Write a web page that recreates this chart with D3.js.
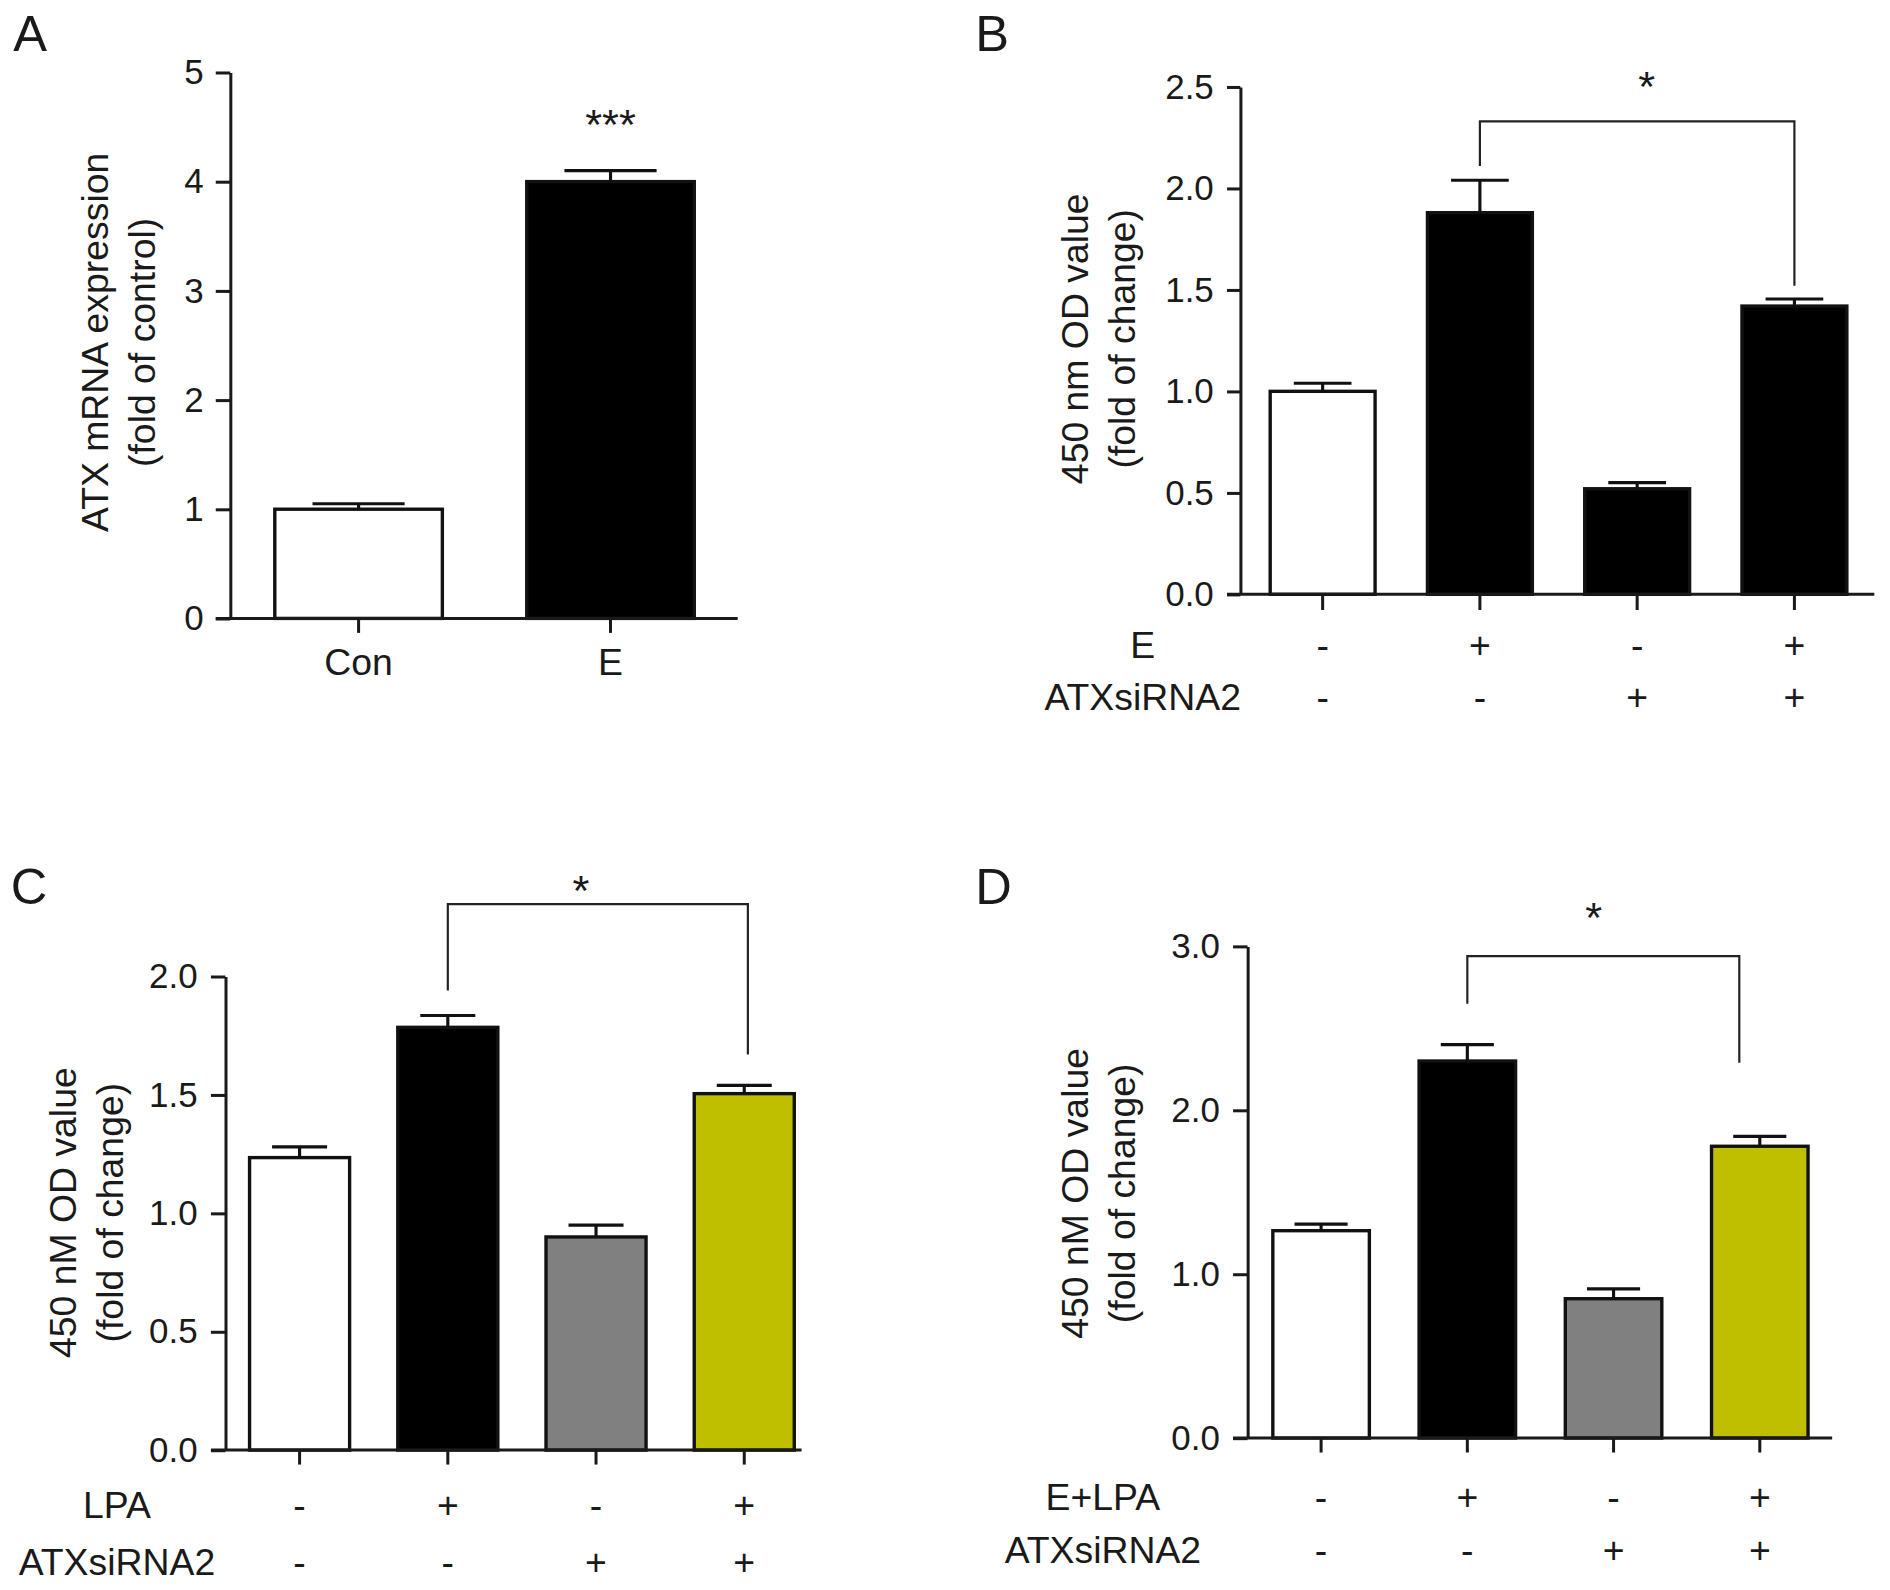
<!DOCTYPE html>
<html>
<head>
<meta charset="utf-8">
<script src="https://cdn.jsdelivr.net/npm/d3@7"></script>
<style>
  body { margin: 0; background: #fff; }
  svg { display: block; }
  text { font-family: "Liberation Sans", Arial, sans-serif; fill: #1a1a1a; }
</style>
</head>
<body>
<svg id="fig" width="1890" height="1590" viewBox="0 0 1568 1319"></svg>
<script>
// ---- data ----
// A: ATX mRNA expression
var aGroups = ["Con", "E"];
var aMeans = [1.0, 4.0];
var aErrs = [0.05, 0.1];
var aFills = ["#ffffff", "#000000"];
var aTicks = [0, 1, 2, 3, 4, 5];

// B: E / ATXsiRNA2
var bGroups = ["ctrl", "E", "si", "E+si"];
var bMeans = [1.0, 1.88, 0.52, 1.42];
var bErrs = [0.04, 0.16, 0.03, 0.035];
var bFills = ["#ffffff", "#000000", "#000000", "#000000"];
var bTicks = [0, 0.5, 1.0, 1.5, 2.0, 2.5];
var bRowNames = ["E", "ATXsiRNA2"];
var bRow1 = ["-", "+", "-", "+"];
var bRow2 = ["-", "-", "+", "+"];

// C: LPA / ATXsiRNA2
var cGroups = ["ctrl", "LPA", "si", "LPA+si"];
var cMeans = [1.235, 1.785, 0.9, 1.505];
var cErrs = [0.045, 0.05, 0.05, 0.035];
var cFills = ["#ffffff", "#000000", "#808080", "#bfbf00"];
var cTicks = [0, 0.5, 1.0, 1.5, 2.0];
var cRowNames = ["LPA", "ATXsiRNA2"];
var cRow1 = ["-", "+", "-", "+"];
var cRow2 = ["-", "-", "+", "+"];

// D: E+LPA / ATXsiRNA2
var dGroups = ["ctrl", "E+LPA", "si", "E+LPA+si"];
var dMeans = [1.265, 2.3, 0.85, 1.78];
var dErrs = [0.04, 0.1, 0.06, 0.06];
var dFills = ["#ffffff", "#000000", "#808080", "#bfbf00"];
var dTicks = [0, 1.0, 2.0, 3.0];
var dRowNames = ["E+LPA", "ATXsiRNA2"];
var dRow1 = ["-", "+", "-", "+"];
var dRow2 = ["-", "-", "+", "+"];

// significance brackets: [from group, to group, bar level, left end, right end, star level]
var bSig = ["E", "E+si", 2.33, 2.11, 1.52, 2.53];
var cSig = ["LPA", "LPA+si", 2.305, 1.94, 1.67, 2.39];
var dSig = ["E+LPA", "E+LPA+si", 2.94, 2.65, 2.29, 3.21];

var svg = d3.select("#fig");
var FS = 29;   // tick numbers
var LS = 31;   // titles, labels

function panel(o) {
  var g = svg.append("g");

  var y = d3.scaleLinear().domain(o.domain).range([o.yBot, o.yTop]);
  var x = d3.scaleBand().domain(o.groups).range([o.x0, o.bandEnd])
    .paddingInner(o.pi).paddingOuter(o.po);

  // panel letter
  g.append("text").attr("x", o.letter[0]).attr("y", o.letter[1])
    .attr("font-size", 42).text(o.name);

  // y axis
  var ya = g.append("g").attr("transform", "translate(" + o.x0 + ",0)")
    .call(d3.axisLeft(y).tickValues(o.ticks).tickFormat(d3.format(o.fmt))
      .tickSizeInner(o.tick).tickSizeOuter(0).tickPadding(o.pad));
  ya.selectAll("path, line").attr("stroke", "#1a1a1a").attr("stroke-width", 2.5);
  ya.selectAll("text").attr("font-size", FS).attr("fill", "#1a1a1a")
    .style("font-family", "'Liberation Sans', Arial, sans-serif");

  // bars
  var rows = o.groups.map(function(k, i) {
    return { key: k, mean: o.means[i], err: o.errs[i], fill: o.fills[i] };
  });
  g.selectAll("rect.bar").data(rows).enter().append("rect")
    .attr("class", "bar")
    .attr("x", function(d) { return x(d.key); })
    .attr("width", x.bandwidth())
    .attr("y", function(d) { return y(d.mean); })
    .attr("height", function(d) { return y(0) - y(d.mean); })
    .attr("fill", function(d) { return d.fill; })
    .attr("stroke", "#111").attr("stroke-width", 2.8);

  // upper error whiskers
  var capW = x.bandwidth() * 0.55;
  var eb = g.selectAll("g.err").data(rows).enter().append("g").attr("class", "err")
    .attr("stroke", "#111").attr("stroke-width", 2.6);
  eb.append("line")
    .attr("x1", function(d) { return x(d.key) + x.bandwidth() / 2; })
    .attr("x2", function(d) { return x(d.key) + x.bandwidth() / 2; })
    .attr("y1", function(d) { return y(d.mean); })
    .attr("y2", function(d) { return y(d.mean + d.err); });
  eb.append("line")
    .attr("x1", function(d) { return x(d.key) + x.bandwidth() / 2 - capW / 2; })
    .attr("x2", function(d) { return x(d.key) + x.bandwidth() / 2 + capW / 2; })
    .attr("y1", function(d) { return y(d.mean + d.err); })
    .attr("y2", function(d) { return y(d.mean + d.err); });

  // x axis
  var xa = g.append("g").attr("transform", "translate(0," + y(0) + ")")
    .call(d3.axisBottom(x).tickSizeInner(o.xtick).tickSizeOuter(0).tickPadding(13)
      .tickFormat(o.catLabels ? function(d, i) { return o.catLabels[i]; } : ""));
  xa.select(".domain").remove();
  xa.selectAll("line").attr("stroke", "#1a1a1a").attr("stroke-width", 2.5);
  xa.selectAll("text").attr("font-size", LS).attr("fill", "#1a1a1a")
    .style("font-family", "'Liberation Sans', Arial, sans-serif");
  g.append("line").attr("x1", o.x0 - o.tick).attr("x2", o.xEnd)
    .attr("y1", y(0)).attr("y2", y(0))
    .attr("stroke", "#1a1a1a").attr("stroke-width", 2.5);

  // y title (two lines)
  o.title.forEach(function(t, i) {
    g.append("text")
      .attr("transform", "translate(" + o.titleX[i] + "," + o.titleY + ") rotate(-90)")
      .attr("text-anchor", "middle").attr("font-size", LS).text(t);
  });

  // +/- condition rows
  if (o.rows) {
    o.rows.forEach(function(r, ri) {
      g.append("text").attr("x", o.rowLabelX).attr("y", o.rowY[ri])
        .attr("text-anchor", "middle").attr("font-size", LS).text(o.rowNames[ri]);
      g.selectAll(null).data(r).enter().append("text")
        .attr("x", function(d, i) { return x(o.groups[i]) + x.bandwidth() / 2; })
        .attr("y", o.rowY[ri])
        .attr("text-anchor", "middle").attr("font-size", LS)
        .text(function(d) { return d; });
    });
  }

  // significance
  if (o.sig) {
    var s = o.sig;
    var xl = x(s[0]) + x.bandwidth() / 2;
    var xr = x(s[1]) + x.bandwidth() / 2 + (o.legDx || 0);
    g.append("path")
      .attr("d", d3.line()([[xl, y(s[3])], [xl, y(s[2])], [xr, y(s[2])], [xr, y(s[4])]]))
      .attr("fill", "none").attr("stroke", "#222").attr("stroke-width", 1.8);
    g.append("text").attr("x", (xl + xr) / 2 + (o.starDx || 0)).attr("y", y(s[5]) + 17)
      .attr("text-anchor", "middle").attr("font-size", 36).text("*");
  }
  if (o.stars) {
    g.append("text").attr("x", x(o.stars[0]) + x.bandwidth() / 2).attr("y", y(o.stars[1]) + 17)
      .attr("text-anchor", "middle").attr("font-size", 36).text(o.stars[2]);
  }
}

panel({
  name: "A", letter: [11, 42],
  groups: aGroups, means: aMeans, errs: aErrs, fills: aFills,
  domain: [0, 5], ticks: aTicks, fmt: "d",
  x0: 191, bandEnd: 613, xEnd: 612, yTop: 60, yBot: 513, pi: 0.335, po: 0.177,
  tick: 12, xtick: 12, pad: 10,
  catLabels: aGroups,
  title: ["ATX mRNA expression", "(fold of control)"], titleX: [90, 129], titleY: 284,
  stars: ["E", 4.58, "***"]
});

panel({
  name: "B", letter: [809, 42],
  groups: bGroups, means: bMeans, errs: bErrs, fills: bFills,
  domain: [0, 2.5], ticks: bTicks, fmt: ".1f",
  x0: 1029, bandEnd: 1557, xEnd: 1555, yTop: 72, yBot: 493, pi: 0.333, po: 0.19,
  tick: 11, xtick: 13, pad: 11,
  title: ["450 nm OD value", "(fold of change)"], titleX: [903, 942], titleY: 281,
  rows: [bRow1, bRow2], rowNames: bRowNames, rowLabelX: 948, rowY: [546, 589],
  sig: bSig, starDx: 8
});

panel({
  name: "C", letter: [9, 750],
  groups: cGroups, means: cMeans, errs: cErrs, fills: cFills,
  domain: [0, 2], ticks: cTicks, fmt: ".1f",
  x0: 187, bandEnd: 679, xEnd: 665, yTop: 810, yBot: 1203, pi: 0.325, po: 0.163,
  tick: 12, xtick: 12, pad: 11,
  title: ["450 nM OD value", "(fold of change)"], titleX: [63, 102], titleY: 1006,
  rows: [cRow1, cRow2], rowNames: cRowNames, rowLabelX: 97, rowY: [1259, 1307],
  sig: cSig, legDx: 3, starDx: -14
});

panel({
  name: "D", letter: [809, 750],
  groups: dGroups, means: dMeans, errs: dErrs, fills: dFills,
  domain: [0, 3], ticks: dTicks, fmt: ".1f",
  x0: 1035, bandEnd: 1521, xEnd: 1520, yTop: 785, yBot: 1193, pi: 0.34, po: 0.173,
  tick: 12, xtick: 12, pad: 11,
  title: ["450 nM OD value", "(fold of change)"], titleX: [903, 942], titleY: 990,
  rows: [dRow1, dRow2], rowNames: dRowNames, rowLabelX: 915, rowY: [1253, 1297],
  sig: dSig, legDx: -17, starDx: -8
});
</script>
</body>
</html>
